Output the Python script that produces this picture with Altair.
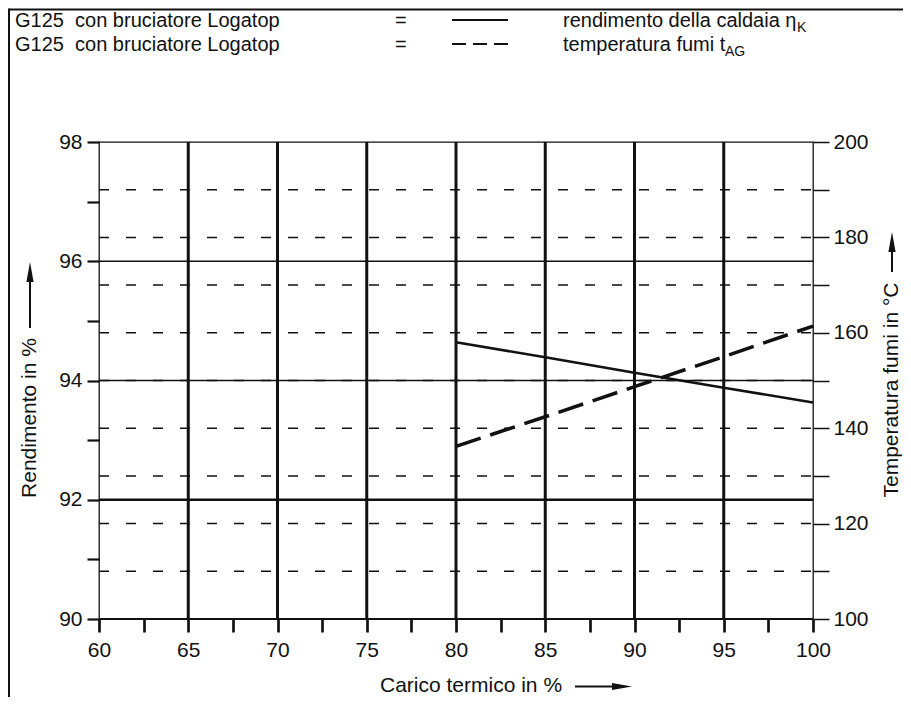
import altair as alt
import pandas as pd

# ---------------- data ----------------
load = [80, 85, 90, 95, 100]
efficiency = [94.64, 94.39, 94.13, 93.88, 93.63]
flue_temp = [136.2, 142.4, 148.7, 155.0, 161.4]

x_grid = [65, 70, 75, 80, 85, 90, 95]
eff_grid_thin = [96, 94]
eff_grid_thick = [92]
eff_bottom = [90]
temp_grid = [110, 120, 130, 140, 150, 160, 170, 180, 190]

x_ticks = [60, 62.5, 65, 67.5, 70, 72.5, 75, 77.5, 80, 82.5, 85, 87.5, 90, 92.5, 95, 97.5, 100]
eff_ticks = [90, 91, 92, 93, 94, 95, 96, 97, 98]
temp_ticks = [100, 110, 120, 130, 140, 150, 160, 170, 180, 190, 200]

legend_left = "G125\u00a0\u00a0con bruciatore Logatop"
legend_eq = "="
legend_eff = "rendimento della caldaia η"
legend_eff_sub = "K"
legend_temp = "temperatura fumi t"
legend_temp_sub = "AG"
x_title = "Carico termico in %"
y_left_title = "Rendimento in %"
y_right_title = "Temperatura fumi in °C"

# ---------------- geometry ----------------
PADL, PADT = 91, 134
W, H = 714, 477
TOTAL_W, TOTAL_H = 895, 689
PADR = TOTAL_W - PADL - W
PADB = TOTAL_H - PADT - H
FONT = "Liberation Sans, Arial, Helvetica, sans-serif"
INK = "#111111"


def rx(px):
    return px - 8 - PADL


def ry(py):
    return py - 8 - PADT


XS = alt.Scale(domain=[60, 100], nice=False, zero=False)
YL = alt.Scale(domain=[90, 98], nice=False, zero=False)
YR = alt.Scale(domain=[100, 200], nice=False, zero=False)

x_axis = alt.Axis(values=x_ticks, title=None, tickSize=13, tickWidth=2.7,
                  labelPadding=7, orient="bottom", labelFlush=False,
                  labelOverlap=False,
                  labelExpr="datum.value % 5 == 0 ? datum.label : ''")
yl_axis = alt.Axis(values=eff_ticks, title=None, tickSize=12, tickWidth=2.2,
                   labelPadding=5, orient="left", labelFlush=False,
                   labelOverlap=False,
                   labelExpr="datum.value % 2 == 0 ? datum.label : ''")
yr_axis = alt.Axis(values=temp_ticks, title=None, orient="right", tickSize=16,
                   tickWidth=1.5, labelPadding=4, labelFlush=False,
                   labelOverlap=False,
                   labelExpr="datum.value % 20 == 0 ? datum.label : ''")

curve = pd.DataFrame({"load": load, "eff": efficiency, "temp": flue_temp})

# ---------- left (efficiency) group ----------
vgrid = alt.Chart(pd.DataFrame({"x": x_grid})).mark_rule(
    color=INK, strokeWidth=3).encode(
    x=alt.X("x:Q", scale=XS, axis=x_axis), y=alt.value(0), y2=alt.value(H))

hthin = alt.Chart(pd.DataFrame({"y": eff_grid_thin})).mark_rule(
    color=INK, strokeWidth=1.3).encode(
    y=alt.Y("y:Q", scale=YL, axis=yl_axis), x=alt.value(0), x2=alt.value(W))

hthick = alt.Chart(pd.DataFrame({"y": eff_grid_thick})).mark_rule(
    color=INK, strokeWidth=2.6).encode(
    y=alt.Y("y:Q", scale=YL, axis=yl_axis), x=alt.value(0), x2=alt.value(W))

hbottom = alt.Chart(pd.DataFrame({"y": eff_bottom})).mark_rule(
    color=INK, strokeWidth=2).encode(
    y=alt.Y("y:Q", scale=YL, axis=yl_axis), x=alt.value(0), x2=alt.value(W))

eff_line = alt.Chart(curve).mark_line(color=INK, strokeWidth=2.5).encode(
    x=alt.X("load:Q", scale=XS, axis=x_axis),
    y=alt.Y("eff:Q", scale=YL, axis=yl_axis))

left_group = alt.layer(vgrid, hthin, hthick, hbottom, eff_line)

# ---------- right (temperature) group ----------
tgrid = alt.Chart(pd.DataFrame({"t": temp_grid})).mark_rule(
    color=INK, strokeWidth=1.5, strokeDash=[10, 17]).encode(
    y=alt.Y("t:Q", scale=YR, axis=yr_axis), x=alt.value(0), x2=alt.value(W))

temp_line = alt.Chart(curve).mark_line(
    color=INK, strokeWidth=3.5, strokeDash=[26, 10]).encode(
    x=alt.X("load:Q", scale=XS, axis=x_axis),
    y=alt.Y("temp:Q", scale=YR, axis=yr_axis))

right_group = alt.layer(tgrid, temp_line)

# ---------- decorations ----------
one = pd.DataFrame({"a": [0]})


def txt(label, x, y, size=20, angle=0, align="left", baseline="alphabetic"):
    return alt.Chart(pd.DataFrame({"label": [label]})).mark_text(
        font=FONT, fontSize=size, color=INK, align=align, baseline=baseline,
        angle=angle).encode(x=alt.value(x), y=alt.value(y), text="label:N")


def hrule(x1, x2, y, w=2, dash=None):
    kw = dict(color=INK, strokeWidth=w)
    if dash:
        kw["strokeDash"] = dash
    return alt.Chart(one).mark_rule(**kw).encode(
        x=alt.value(x1), x2=alt.value(x2), y=alt.value(y))


def vrule(x, y1, y2, w=2):
    return alt.Chart(one).mark_rule(color=INK, strokeWidth=w).encode(
        x=alt.value(x), y=alt.value(y1), y2=alt.value(y2))


def head(x, y, path, size):
    return alt.Chart(one).mark_point(
        shape=path, filled=True, color=INK, opacity=1, size=size,
        strokeWidth=0).encode(x=alt.value(x), y=alt.value(y))


UP = "M0,-1L0.36,1L-0.36,1Z"
RIGHT = "M1,0L-1,0.36L-1,-0.36Z"

decos = [
    # frame
    hrule(rx(9), rx(903), ry(9.5), w=2),
    vrule(rx(9), ry(8.5), ry(709), w=2),
    # legend row 1
    txt(legend_left, rx(15), ry(27)),
    txt(legend_eq, rx(395), ry(27)),
    hrule(rx(452), rx(508), ry(20), w=2.2),
    txt(legend_eff, rx(563), ry(27)),
    txt(legend_eff_sub, rx(797), ry(32), size=14),
    # legend row 2
    txt(legend_left, rx(15), ry(51)),
    txt(legend_eq, rx(395), ry(51)),
    hrule(rx(452), rx(508), ry(44), w=2.2, dash=[14, 7]),
    txt(legend_temp, rx(563), ry(51)),
    txt(legend_temp_sub, rx(725), ry(56), size=14),
    # x title + arrow
    txt(x_title, rx(380), ry(692), size=21),
    hrule(rx(575), rx(618), ry(686.5), w=2),
    head(rx(622), ry(686.5), RIGHT, 400),
    # left title + arrow
    txt(y_left_title, rx(30), ry(418), size=21, angle=270, align="center", baseline="middle"),
    vrule(rx(30), ry(328), ry(278), w=2),
    head(rx(30), ry(272), UP, 400),
    # right title + arrow
    txt(y_right_title, rx(892), ry(390), size=21, angle=270, align="center", baseline="middle"),
    vrule(rx(892), ry(272), ry(246), w=2),
    head(rx(892), ry(242), UP, 400),
]

chart = alt.layer(left_group, right_group, *decos).resolve_scale(
    y="independent"
).properties(
    width=W, height=H,
    autosize=alt.AutoSizeParams(type="none"),
    padding={"left": PADL, "top": PADT, "right": PADR, "bottom": PADB},
    background="white",
).configure_view(
    stroke=INK, strokeWidth=1.3
).configure_axis(
    labelFont=FONT, labelFontSize=21, labelColor=INK, tickColor=INK,
    domain=False, grid=False
)

chart.save("out.html", embed_options={"renderer": "svg", "actions": False})
